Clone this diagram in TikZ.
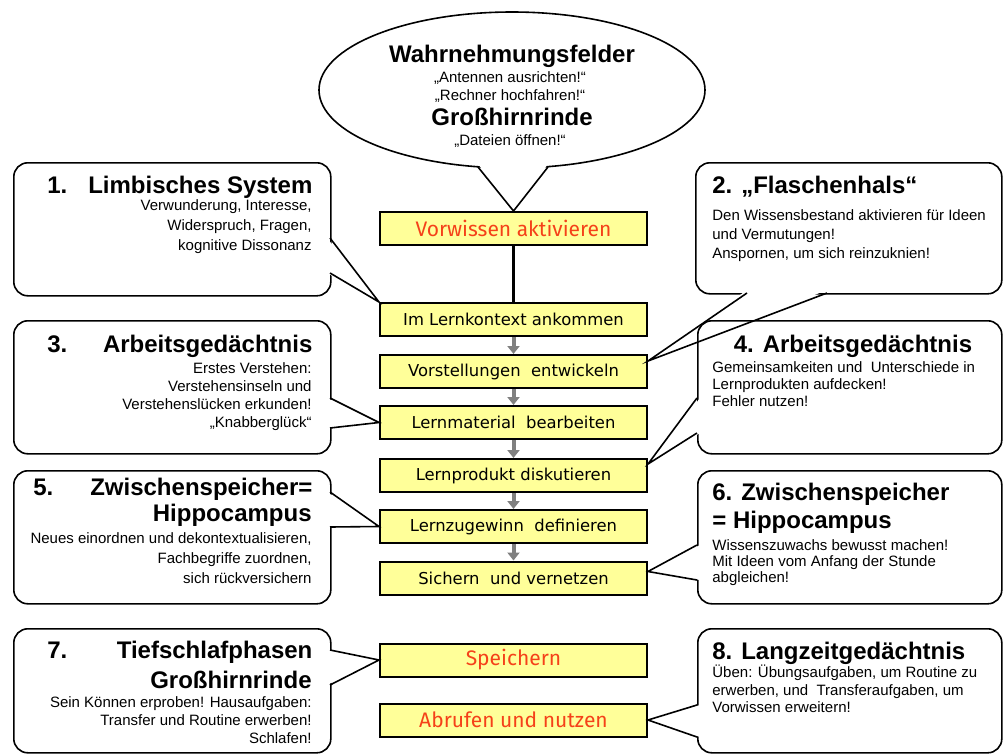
\documentclass[tikz,border=0pt]{standalone}
\usepackage{fontspec}
\setmainfont{Liberation Sans}
\newfontfamily\redfont{Fira Sans}
\newfontfamily\stepfont{DejaVu Sans}
\usetikzlibrary{shapes.geometric,arrows.meta,calc}
\definecolor{boxfill}{RGB}{255,255,153}
\definecolor{redtxt}{RGB}{245,65,25}
\definecolor{arrowgray}{RGB}{128,128,128}
\begin{document}
\begin{tikzpicture}[x=0.5pt,y=-0.5pt,
  callout/.style={draw, line width=0.8pt, rounded corners=7pt, fill=white, anchor=north west, inner sep=0pt},
  tailfill/.style={fill=white, draw=none},
  tailline/.style={line width=0.8pt, line join=miter},
  stepbox/.style={draw, line width=1pt, fill=boxfill, minimum width=133.5pt, minimum height=16.5pt, inner sep=0pt},
  redstep/.style={stepbox, text=redtxt, font=\redfont\fontsize{10.5}{12}\selectfont},
  darkstep/.style={stepbox, font=\stepfont\fontsize{8.2}{10}\selectfont},
  ttl/.style={font=\bfseries\fontsize{12}{14}\selectfont, inner sep=0pt},
  body/.style={font=\fontsize{7.5}{#1}\selectfont, inner sep=0pt},
  body/.default=10pt,
  grayarrow/.style={draw=arrowgray, line width=2pt, -{Triangle[width=6pt,length=4pt]}},
  link/.style={line width=1.5pt}
]
\useasboundingbox (0,0) rectangle (1003,756);

% central steps
\node[redstep]  (v1) at (513.5,228.5) {Vorwissen aktivieren};
\node[darkstep] (b1) at (513.5,319.5) {Im Lernkontext ankommen};
\node[darkstep] (b2) at (513.5,371.5) {Vorstellungen\ \ entwickeln};
\node[darkstep] (b3) at (513.5,422.5) {Lernmaterial\ \ bearbeiten};
\node[darkstep] (b4) at (513.5,475.5) {Lernprodukt diskutieren};
\node[darkstep] (b5) at (513.5,526.5) {Lernzugewinn\ \ definieren};
\node[darkstep] (b6) at (513.5,578) {Sichern\ \ und vernetzen};
\node[redstep]  (s1) at (513.5,660) {Speichern};
\node[redstep]  (s2) at (513.5,720) {Abrufen und nutzen};

% ellipse
\node[draw, ellipse, line width=0.8pt, fill=white, minimum width=193pt, minimum height=78pt, inner sep=0pt] (ell) at (512,90) {};
\coordinate (ea) at (478,167);
\coordinate (eb) at (548,167);
\fill[tailfill] ($(ea)+(0,-3)$) -- (v1.north) -- ($(eb)+(0,-3)$) -- cycle;

% callouts
\node[callout, minimum width=158.5pt, minimum height=66.5pt] (c1) at (13,162) {};
\coordinate (c1a) at (330,238); \coordinate (c1b) at (330,273);
\fill[tailfill] ($(c1a)+(-3,0)$) -- (b1.north west) -- ($(c1b)+(-3,0)$) -- cycle;

\node[callout, minimum width=153pt, minimum height=65.5pt] (c2) at (695,162) {};
\coordinate (c2a) at (747,293); \coordinate (c2b) at (827,293);
\coordinate (t2) at ($(b2.north east)+(0,7)$);
\fill[tailfill] ($(c2a)+(0,-3)$) -- (t2) -- ($(c2b)+(0,-3)$) -- cycle;

\node[callout, minimum width=158.5pt, minimum height=66.5pt] (c3) at (13,320) {};
\coordinate (c3a) at (330,398); \coordinate (c3b) at (330,428);
\fill[tailfill] ($(c3a)+(-3,0)$) -- (b3.west) -- ($(c3b)+(-3,0)$) -- cycle;

\node[callout, minimum width=152pt, minimum height=66.5pt] (c4) at (697,320) {};
\coordinate (c4a) at (697,398); \coordinate (c4b) at (697,433);
\coordinate (t4) at ($(b4.north east)+(0,6)$);
\fill[tailfill] ($(c4a)+(3,0)$) -- (t4) -- ($(c4b)+(3,0)$) -- cycle;

\node[callout, minimum width=158.5pt, minimum height=66.5pt] (c5) at (13,470) {};
\coordinate (c5a) at (330,492); \coordinate (c5b) at (330,527);
\fill[tailfill] ($(c5a)+(-3,0)$) -- (b5.west) -- ($(c5b)+(-3,0)$) -- cycle;

\node[callout, minimum width=152pt, minimum height=66.5pt] (c6) at (697,470) {};
\coordinate (c6a) at (697,545); \coordinate (c6b) at (697,580);
\coordinate (t6) at ($(b6.north east)+(0,11)$);
\fill[tailfill] ($(c6a)+(3,0)$) -- (t6) -- ($(c6b)+(3,0)$) -- cycle;

\node[callout, minimum width=158.5pt, minimum height=62pt] (c7) at (13,628) {};
\coordinate (c7a) at (330,650); \coordinate (c7b) at (330,685);
\fill[tailfill] ($(c7a)+(-3,0)$) -- (s1.west) -- ($(c7b)+(-3,0)$) -- cycle;

\node[callout, minimum width=152pt, minimum height=62pt] (c8) at (697,628) {};
\coordinate (c8a) at (697,705); \coordinate (c8b) at (697,737);
\fill[tailfill] ($(c8a)+(3,0)$) -- (s2.east) -- ($(c8b)+(3,0)$) -- cycle;

% tail lines
\draw[tailline] (ea) -- (v1.north) -- (eb);
\draw[tailline] (c1a) -- (b1.north west) -- (c1b);
\draw[tailline] (c2a) -- (t2) -- (c2b);
\draw[tailline] (c3a) -- (b3.west) -- (c3b);
\draw[tailline] (c4a) -- (t4) -- (c4b);
\draw[tailline] (c5a) -- (b5.west) -- (c5b);
\draw[tailline] (c6a) -- (t6) -- (c6b);
\draw[tailline] (c7a) -- (s1.west) -- (c7b);
\draw[tailline] (c8a) -- (s2.east) -- (c8b);

% connectors
\draw[link] (v1.south) -- (b1.north);
\draw[grayarrow] (b1.south) -- (b2.north);
\draw[grayarrow] (b2.south) -- (b3.north);
\draw[grayarrow] (b3.south) -- (b4.north);
\draw[grayarrow] (b4.south) -- (b5.north);
\draw[grayarrow] (b5.south) -- (b6.north);

% ellipse texts
\node[ttl, anchor=base] (e1) at (512,62) {Wahrnehmungsfelder};
\node[body, anchor=base] (e2) at (510,82) {„Antennen ausrichten!“};
\node[body, anchor=base] (e3) at (510,100) {„Rechner hochfahren!“};
\node[ttl, anchor=base] (e4) at (512,125) {Großhirnrinde};
\node[body, anchor=base] (e5) at (510,145) {„Dateien öffnen!“};

% callout texts
\node[ttl, anchor=base west] (h1) at (47,193) {\makebox[132.5pt][l]{1.\hfill Limbisches System}};
\node[body, anchor=north east, align=right] (d1) at (312,199) {Verwunderung, Interesse,\\Widerspruch, Fragen,\\kognitive Dissonanz};

\node[ttl, anchor=base west] (h2) at (712,193) {2. „Flaschenhals“};
\node[body=9.5pt, anchor=north west, align=left] (d2) at (712,209) {Den Wissensbestand aktivieren für Ideen\\und Vermutungen!\\Anspornen, um sich reinzuknien!};

\node[ttl, anchor=base west] (h3) at (47,352) {\makebox[132.5pt][l]{3.\hfill Arbeitsgedächtnis}};
\node[body=9pt, anchor=north east, align=right] (d3) at (312,362) {Erstes Verstehen:\\Verstehensinseln und\\Verstehenslücken erkunden!\\„Knabberglück“};

\node[ttl, anchor=base] (h4) at (853,352) {4. Arbeitsgedächtnis};
\node[body=8.5pt, anchor=north west, align=left] (d4) at (712,361) {Gemeinsamkeiten und\ \ Unterschiede in\\Lernprodukten aufdecken!\\Fehler nutzen!};

\node[ttl, anchor=base west] (h5) at (33,495) {\makebox[139.5pt][l]{5.\hfill Zwischenspeicher=}};
\node[ttl, anchor=base east] (h5b) at (312,521) {Hippocampus};
\node[body, anchor=north east, align=right] (d5) at (312,532) {Neues einordnen und dekontextualisieren,\\Fachbegriffe zuordnen,\\sich rückversichern};

\node[ttl, anchor=base west] (h6) at (712,500) {6. Zwischenspeicher};
\node[ttl, anchor=base west] (h6b) at (712,528) {= Hippocampus};
\node[body=8pt, anchor=north west, align=left] (d6) at (712,539) {Wissenszuwachs bewusst machen!\\Mit Ideen vom Anfang der Stunde\\abgleichen!};

\node[ttl, anchor=base west] (h7) at (47,658) {\makebox[132.5pt][l]{7.\hfill Tiefschlafphasen}};
\node[ttl, anchor=base east] (h7b) at (312,688) {Großhirnrinde};
\node[body=9pt, anchor=north east, align=right] (d7) at (312,696) {Sein Können erproben! Hausaufgaben:\\Transfer und Routine erwerben!\\Schlafen!};

\node[ttl, anchor=base west] (h8) at (712,659) {8. Langzeitgedächtnis};
\node[body=8.75pt, anchor=north west, align=left] (d8) at (712,665) {Üben: Übungsaufgaben, um Routine zu\\erwerben, und\ \ Transferaufgaben, um\\Vorwissen erweitern!};
\end{tikzpicture}
\end{document}
